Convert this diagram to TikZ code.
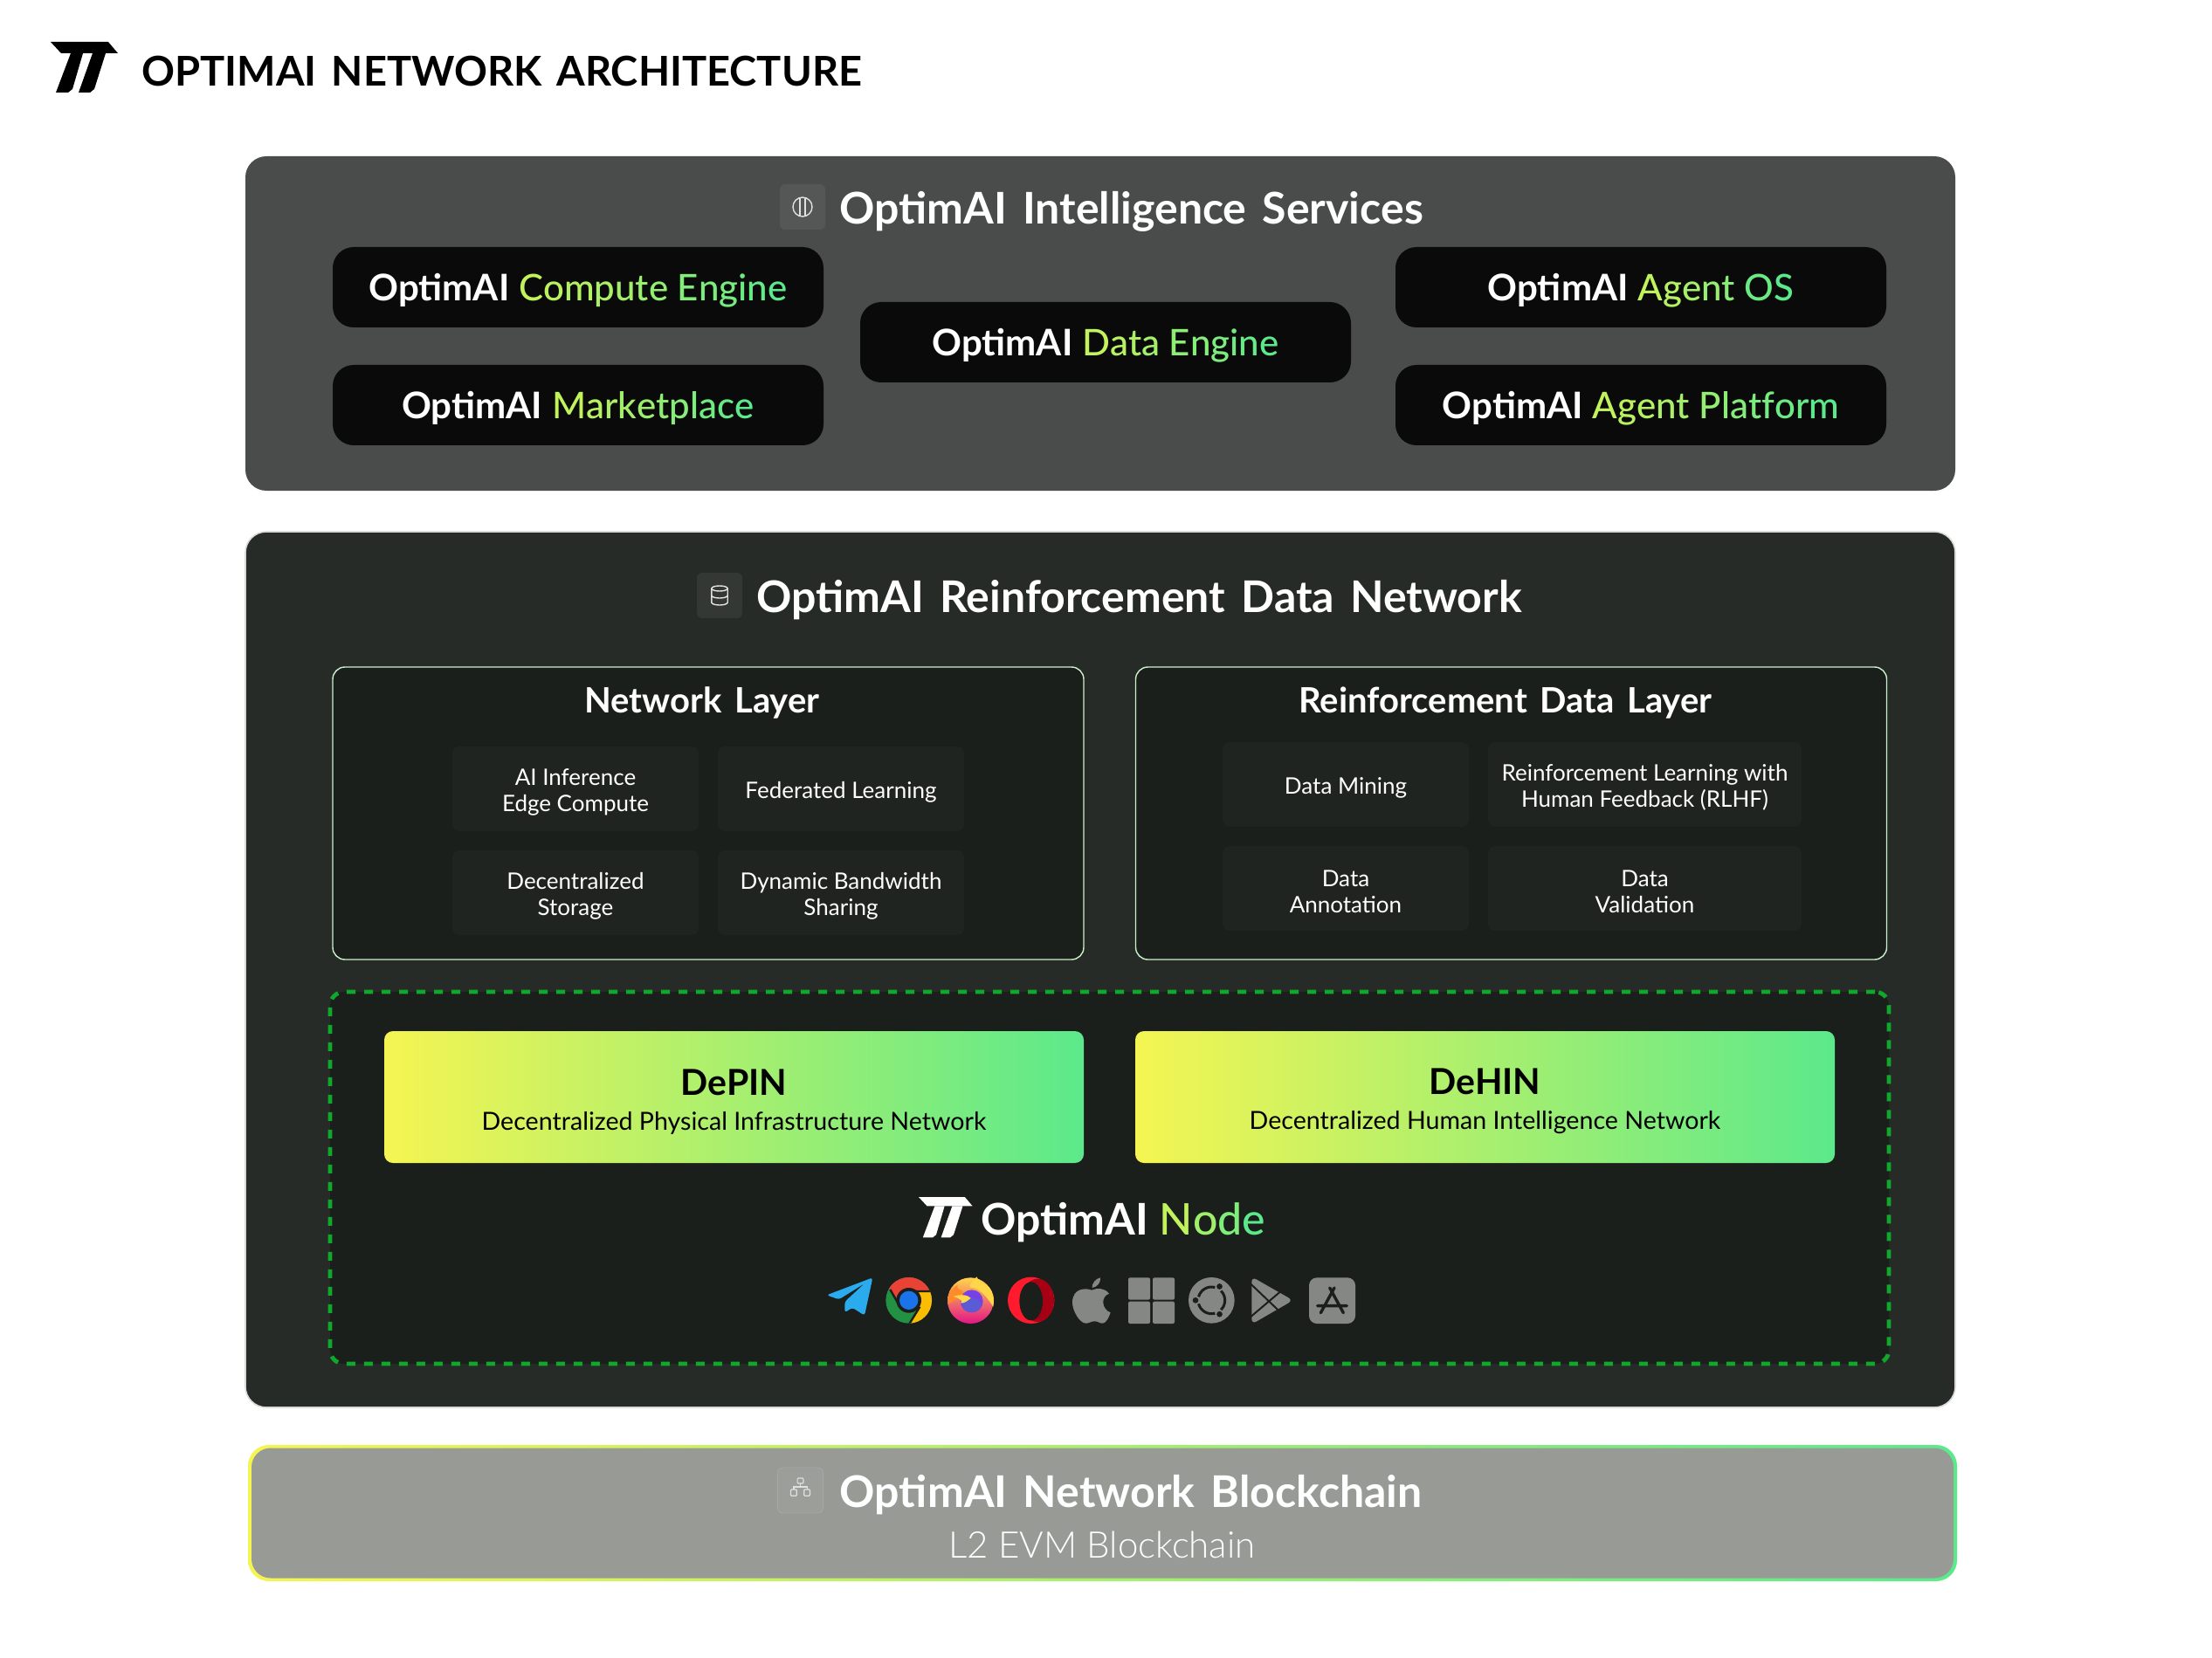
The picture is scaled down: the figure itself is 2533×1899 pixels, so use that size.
\documentclass[tikz,border=0pt]{standalone}
\usepackage{fontspec}
\setmainfont{Lato}
\newfontfamily\titlefont[WordSpace=1.5]{Lato}
\newfontfamily\thinfont{Lato Light}
\newfontfamily\medfont{Lato Medium}
\usetikzlibrary{positioning}
\definecolor{panelgrey}{HTML}{4A4C4B}
\definecolor{paneldark}{HTML}{272B28}
\definecolor{layerdark}{HTML}{1B1F1C}
\definecolor{cellgrey}{HTML}{202421}
\definecolor{chainfill}{HTML}{989A96}
\definecolor{gradlime}{HTML}{F5F552}
\definecolor{gradgreen}{HTML}{5CE98B}
\definecolor{textlime}{HTML}{C2F25C}
\definecolor{dashgreen}{HTML}{0FA82B}
\definecolor{stackgrey}{HTML}{858785}
\definecolor{tgblue}{HTML}{2AABEE}
\definecolor{chromered}{HTML}{EA4335}
\definecolor{chromegreen}{HTML}{239143}
\definecolor{chromeyellow}{HTML}{FBBC04}
\definecolor{chromeblue}{HTML}{1A73E8}
\definecolor{foxyellow}{HTML}{FFD54A}
\definecolor{foxorange}{HTML}{FF8A2A}
\definecolor{foxpink}{HTML}{E31587}
\definecolor{foxviolet}{HTML}{7542E5}
\definecolor{foxblue}{HTML}{5B5BD6}
\definecolor{operared}{HTML}{FF1B2D}
\definecolor{operadark}{HTML}{A70014}
\newcommand{\gradword}[2]{{\medfont\foreach \ch [count=\i] in {#2}{\pgfmathtruncatemacro{\pct}{100*(\i-1)/(#1-1)}\textcolor{gradgreen!\pct!textlime}{\ch}}}}
\newcommand{\cellup}{\rule{0pt}{13pt}}
\tikzset{panel/.style={rectangle, rounded corners=12pt, inner sep=0pt, outer sep=0pt}}
\tikzset{btnbox/.style={rectangle, rounded corners=12pt, fill=black!96, text=white, inner sep=0pt, outer sep=0pt, minimum width=281pt, minimum height=46pt, text height=19pt, text depth=3pt, font=\fontsize{21}{25}\selectfont}}
\tikzset{layerbox/.style={rectangle, rounded corners=7pt, fill=layerdark, draw=black!25!green!20!white, line width=0.7pt, inner sep=0pt, outer sep=0pt, minimum width=430pt, minimum height=167.5pt}}
\tikzset{cellbox/.style={rectangle, rounded corners=4pt, fill=cellgrey, text=white, inner sep=0pt, outer sep=0pt, minimum height=48.5pt, align=center, font=\fontsize{13}{15}\selectfont}}
\tikzset{gradbox/.style={rectangle, rounded corners=5pt, left color=gradlime, right color=gradgreen, inner sep=0pt, outer sep=0pt, minimum width=400.5pt, minimum height=75.5pt, align=center}}
\tikzset{iconbox/.style={rectangle, rounded corners=3pt, inner sep=0pt, outer sep=0pt, minimum width=26pt, minimum height=26pt}}
\tikzset{headtext/.style={text=white, inner sep=0pt, yshift=-2.5pt, font=\titlefont\bfseries\fontsize{25}{30}\selectfont}}
\tikzset{subhead/.style={text=white, inner sep=0pt, font=\titlefont\bfseries\fontsize{20}{24}\selectfont}}
\tikzset{iconline/.style={draw=white!88!black, line width=0.7pt}}
\tikzset{pics/logomark/.style={code={
  \fill (0,0) -- (66,0) -- (77,13) -- (12,13) -- cycle;
  \fill (23,13) -- (6,58) -- (20,58) -- (25,54) -- (37,13) -- cycle;
  \fill (48,13) -- (32,58) -- (45,58) -- (50,54) -- (63,13) -- cycle;}}}
\tikzset{zoomA/.style={shift={(940,1455)},x=0.16667pt,y=-0.16667pt}}
\tikzset{zoomB/.style={shift={(1220,1455)},x=0.16667pt,y=-0.16667pt}}
\begin{document}
\begin{tikzpicture}[x=0.5pt,y=-0.5pt]
  \useasboundingbox (0,0) rectangle (2533,1899);
  \fill[white] (0,0) rectangle (2533,1899);
  % heading
  \pic[black] at (58,48) {logomark};
  \node[anchor=base west, inner sep=0pt, font=\titlefont\bfseries\fontsize{23.5}{28}\selectfont] (heading) at (162,99) {OPTIMAI NETWORK ARCHITECTURE};
  % intelligence services
  \node[panel, fill=panelgrey, minimum width=979pt, minimum height=191.5pt] (services) at (1260,370.5) {};
  \node[iconbox, fill=white!6!panelgrey] (brainicon) at (919,237) {};
  \draw[iconline] (brainicon.center) ellipse (5.5pt and 5.5pt);
  \draw[iconline] ([xshift=-1.5pt,yshift=4.8pt]brainicon.center) -- ([xshift=-1.5pt,yshift=-4.8pt]brainicon.center);
  \draw[iconline] ([xshift=1.5pt,yshift=4.8pt]brainicon.center) -- ([xshift=1.5pt,yshift=-4.8pt]brainicon.center);
  \node[headtext, right=8pt of brainicon] (servicestitle) {OptimAI Intelligence Services};
  \node[btnbox] (compute) at (662,329) {\textbf{OptimAI} \gradword{14}{C,o,m,p,u,t,e,\ ,E,n,g,i,n,e}};
  \node[btnbox, below=21.5pt of compute] (market) {\textbf{OptimAI} \gradword{11}{M,a,r,k,e,t,p,l,a,c,e}};
  \node[btnbox] (dataengine) at (1266,392) {\textbf{OptimAI} \gradword{11}{D,a,t,a,\ ,E,n,g,i,n,e}};
  \node[btnbox] (agentos) at (1879,329) {\textbf{OptimAI} \gradword{8}{A,g,e,n,t,\ ,O,S}};
  \node[btnbox, below=21.5pt of agentos] (platform) {\textbf{OptimAI} \gradword{14}{A,g,e,n,t,\ ,P,l,a,t,f,o,r,m}};
  % reinforcement data network
  \node[panel, fill=paneldark, draw=black!15, line width=0.8pt, minimum width=979pt, minimum height=501.5pt] (datanet) at (1260,1110.5) {};
  \node[iconbox, fill=white!6!paneldark] (dbicon) at (824,682) {};
  \draw[iconline] ([yshift=4pt]dbicon.center) ellipse (4.6pt and 1.5pt);
  \draw[iconline] ([xshift=-4.6pt,yshift=4pt]dbicon.center) -- ([xshift=-4.6pt,yshift=-4pt]dbicon.center) arc (180:360:4.6pt and 1.5pt) -- ([xshift=4.6pt,yshift=4pt]dbicon.center);
  \draw[iconline] ([xshift=-4.6pt]dbicon.center) arc (180:360:4.6pt and 1.5pt);
  \node[headtext, right=8pt of dbicon] (datanettitle) {OptimAI Reinforcement Data Network};
  \node[layerbox] (netlayer) at (811,931.5) {};
  \node[subhead] (netlayertitle) at (804,805) {Network Layer};
  \node[cellbox, minimum width=141pt] (inference) at (659,903.5) {\cellup AI Inference\\Edge Compute};
  \node[cellbox, minimum width=141pt, right=11pt of inference] (federated) {\cellup Federated Learning};
  \node[cellbox, minimum width=141pt, below=11pt of inference] (storage) {\cellup Decentralized\\Storage};
  \node[cellbox, minimum width=141pt, below=11pt of federated] (bandwidth) {\cellup Dynamic Bandwidth\\Sharing};
  \node[layerbox] (rdlayer) at (1730.5,931.5) {};
  \node[subhead] (rdlayertitle) at (1724,805) {Reinforcement Data Layer};
  \node[cellbox, minimum width=141pt] (mining) at (1541,898.5) {\cellup Data Mining};
  \node[cellbox, minimum width=179.5pt, right=11pt of mining] (rlhf) {\cellup Reinforcement Learning with\\Human Feedback (RLHF)};
  \node[cellbox, minimum width=141pt, below=11pt of mining] (annotation) {\cellup Data\\Annotation};
  \node[cellbox, minimum width=179.5pt, below=11pt of rlhf] (validation) {\cellup Data\\Validation};
  % node client
  \node[panel, rounded corners=8pt, fill=layerdark, draw=dashgreen, line width=2.4pt, dash pattern=on 5pt off 5pt, minimum width=892.5pt, minimum height=213pt] (nodearea) at (1270.5,1349) {};
  \node[gradbox] (depin) at (840.5,1256.5) {\rule{0pt}{20pt}{\bfseries\fontsize{20.5}{25}\selectfont DePIN}\\[8pt]{\fontsize{14.3}{18}\selectfont Decentralized Physical Infrastructure Network}};
  \node[gradbox, right=29.5pt of depin] (dehin) {\rule{0pt}{20pt}{\bfseries\fontsize{20.5}{25}\selectfont DeHIN}\\[8pt]{\fontsize{14.3}{18}\selectfont Decentralized Human Intelligence Network}};
  \pic[white, scale=0.8] at (1052,1371) {logomark};
  \node[anchor=base west, inner sep=0pt, text=white, font=\fontsize{25}{30}\selectfont] (nodetitle) at (1123,1414) {\textbf{OptimAI} \gradword{4}{N,o,d,e}};
  % client icons
  \begin{scope}[zoomA]
    \fill[tgblue, rounded corners=1.5pt] (178,25) -- (20,85) -- (62,100) -- (150,45) -- (82,108) -- (82,145) -- (108,128) -- (150,155) -- cycle;
    \begin{scope}
      \clip (302,103) circle (79);
      \fill[chromegreen] (220,20) rectangle (385,190);
      \fill[chromered] (225,20) -- (385,20) -- (385,72) -- (302,72) -- (268,105) -- (235,65) -- cycle;
      \fill[chromeyellow] (302,72) -- (385,72) -- (385,190) -- (302,190) -- (340,125) -- cycle;
      \draw[layerdark, line width=1.2pt] (238,66) -- (272,125) (302,72) -- (385,72) (340,125) -- (300,190);
    \end{scope}
    \fill[layerdark] (302,103) circle (43);
    \fill[chromeblue] (302,103) circle (32);
    % firefox
    \shade[top color=foxyellow, middle color=foxorange, bottom color=foxpink] (514,104) circle (79);
    \fill[foxyellow] (512,58) .. controls (510,45) and (525,35) .. (535,22) .. controls (545,45) and (575,50) .. (578,58) .. controls (592,75) and (597,95) .. (592,125) .. controls (575,100) and (550,60) .. (512,58) -- cycle;
    \fill[foxorange] (437,90) .. controls (442,70) and (455,60) .. (470,50) .. controls (465,70) and (480,60) .. (495,80) -- (440,115) -- cycle;
    \fill[foxviolet] (518,106) circle (39);
    \fill[foxblue] (518,120) ellipse (32 and 24);
    \fill[foxyellow] (455,90) .. controls (480,80) and (505,85) .. (515,95) .. controls (505,105) and (490,115) .. (480,112) .. controls (490,105) and (475,95) .. (455,90) -- cycle;
    % opera
    \fill[operared] (722,103) circle (80);
    \fill[operadark] (745,103) ellipse (56 and 74);
    \fill[layerdark] (722,106) ellipse (40 and 66);
  \end{scope}
  \begin{scope}[zoomB, stackgrey]
    % apple
    \fill (90,68) .. controls (70,60) and (25,60) .. (24,110) .. controls (24,140) and (50,182) .. (70,182) .. controls (85,182) and (85,175) .. (100,175) .. controls (115,175) and (115,182) .. (128,182) .. controls (140,182) and (150,160) .. (155,145) .. controls (125,135) and (120,90) .. (150,80) .. controls (135,60) and (110,60) .. (90,68) -- cycle;
    \fill (92,60) .. controls (90,45) and (105,28) .. (120,25) .. controls (122,40) and (110,58) .. (92,60) -- cycle;
    % windows
    \foreach \xa/\ya in {216/25,300/25,216/107,300/107}
      \fill[rounded corners=1pt] (\xa,\ya) rectangle ++(75,76);
    % ubuntu
    \fill (502,103) circle (79);
    \foreach \ang in {75,195,315}
      \draw[layerdark, line width=1.5pt] (502,103) ++(\ang:46 and -46) arc (\ang:\ang+90:46 and -46);
    \foreach \ang in {180,60,-60}
      \fill[layerdark] (502,103) ++(\ang:55 and -55) circle (10);
    % play store
    \fill[rounded corners=3pt] (640,22) -- (782,103) -- (640,185) -- cycle;
    \draw[layerdark, line width=1pt] (636,46) -- (745,150) (636,160) -- (742,70);
    % app store
    \fill[rounded corners=4.5pt] (837,25) rectangle (996,183);
    \draw[layerdark, line width=1.7pt, line cap=round] (924,60) -- (877,146) (908,60) -- (955,146) (866,122) -- (967,122);
  \end{scope}
  % blockchain
  \node[panel, left color=gradlime, right color=gradgreen, minimum width=978.5pt, minimum height=78pt] (chainborder) at (1262.5,1733) {};
  \node[panel, rounded corners=11pt, fill=chainfill, minimum width=974.5pt, minimum height=74.5pt] (chain) at (1262.5,1733) {};
  \node[iconbox, fill=white!4!chainfill, draw=white!15!chainfill, line width=0.4pt] (chainicon) at (916.5,1707) {};
  \draw[iconline, line width=0.6pt, rounded corners=0.5pt] ([xshift=-1.7pt,yshift=7pt]chainicon.center) rectangle ++(3.4pt,-3pt);
  \draw[iconline, line width=0.6pt, rounded corners=0.5pt] ([xshift=-5.5pt,yshift=0.5pt]chainicon.center) rectangle ++(3.4pt,-3.6pt);
  \draw[iconline, line width=0.6pt, rounded corners=0.5pt] ([xshift=2.1pt,yshift=0.5pt]chainicon.center) rectangle ++(3.4pt,-3.6pt);
  \draw[iconline, line width=0.6pt] ([yshift=4pt]chainicon.center) -- ([yshift=2pt]chainicon.center);
  \draw[iconline, line width=0.6pt] ([xshift=-3.8pt,yshift=0.5pt]chainicon.center) |- ([yshift=2pt]chainicon.center) -| ([xshift=3.8pt,yshift=0.5pt]chainicon.center);
  \node[headtext, right=9.5pt of chainicon] (chaintitle) {OptimAI Network Blockchain};
  \node[text=white, inner sep=0pt, font=\thinfont\fontsize{21}{26}\selectfont] (chainsub) at (1262,1769) {L2 EVM Blockchain};
\end{tikzpicture}
\end{document}
